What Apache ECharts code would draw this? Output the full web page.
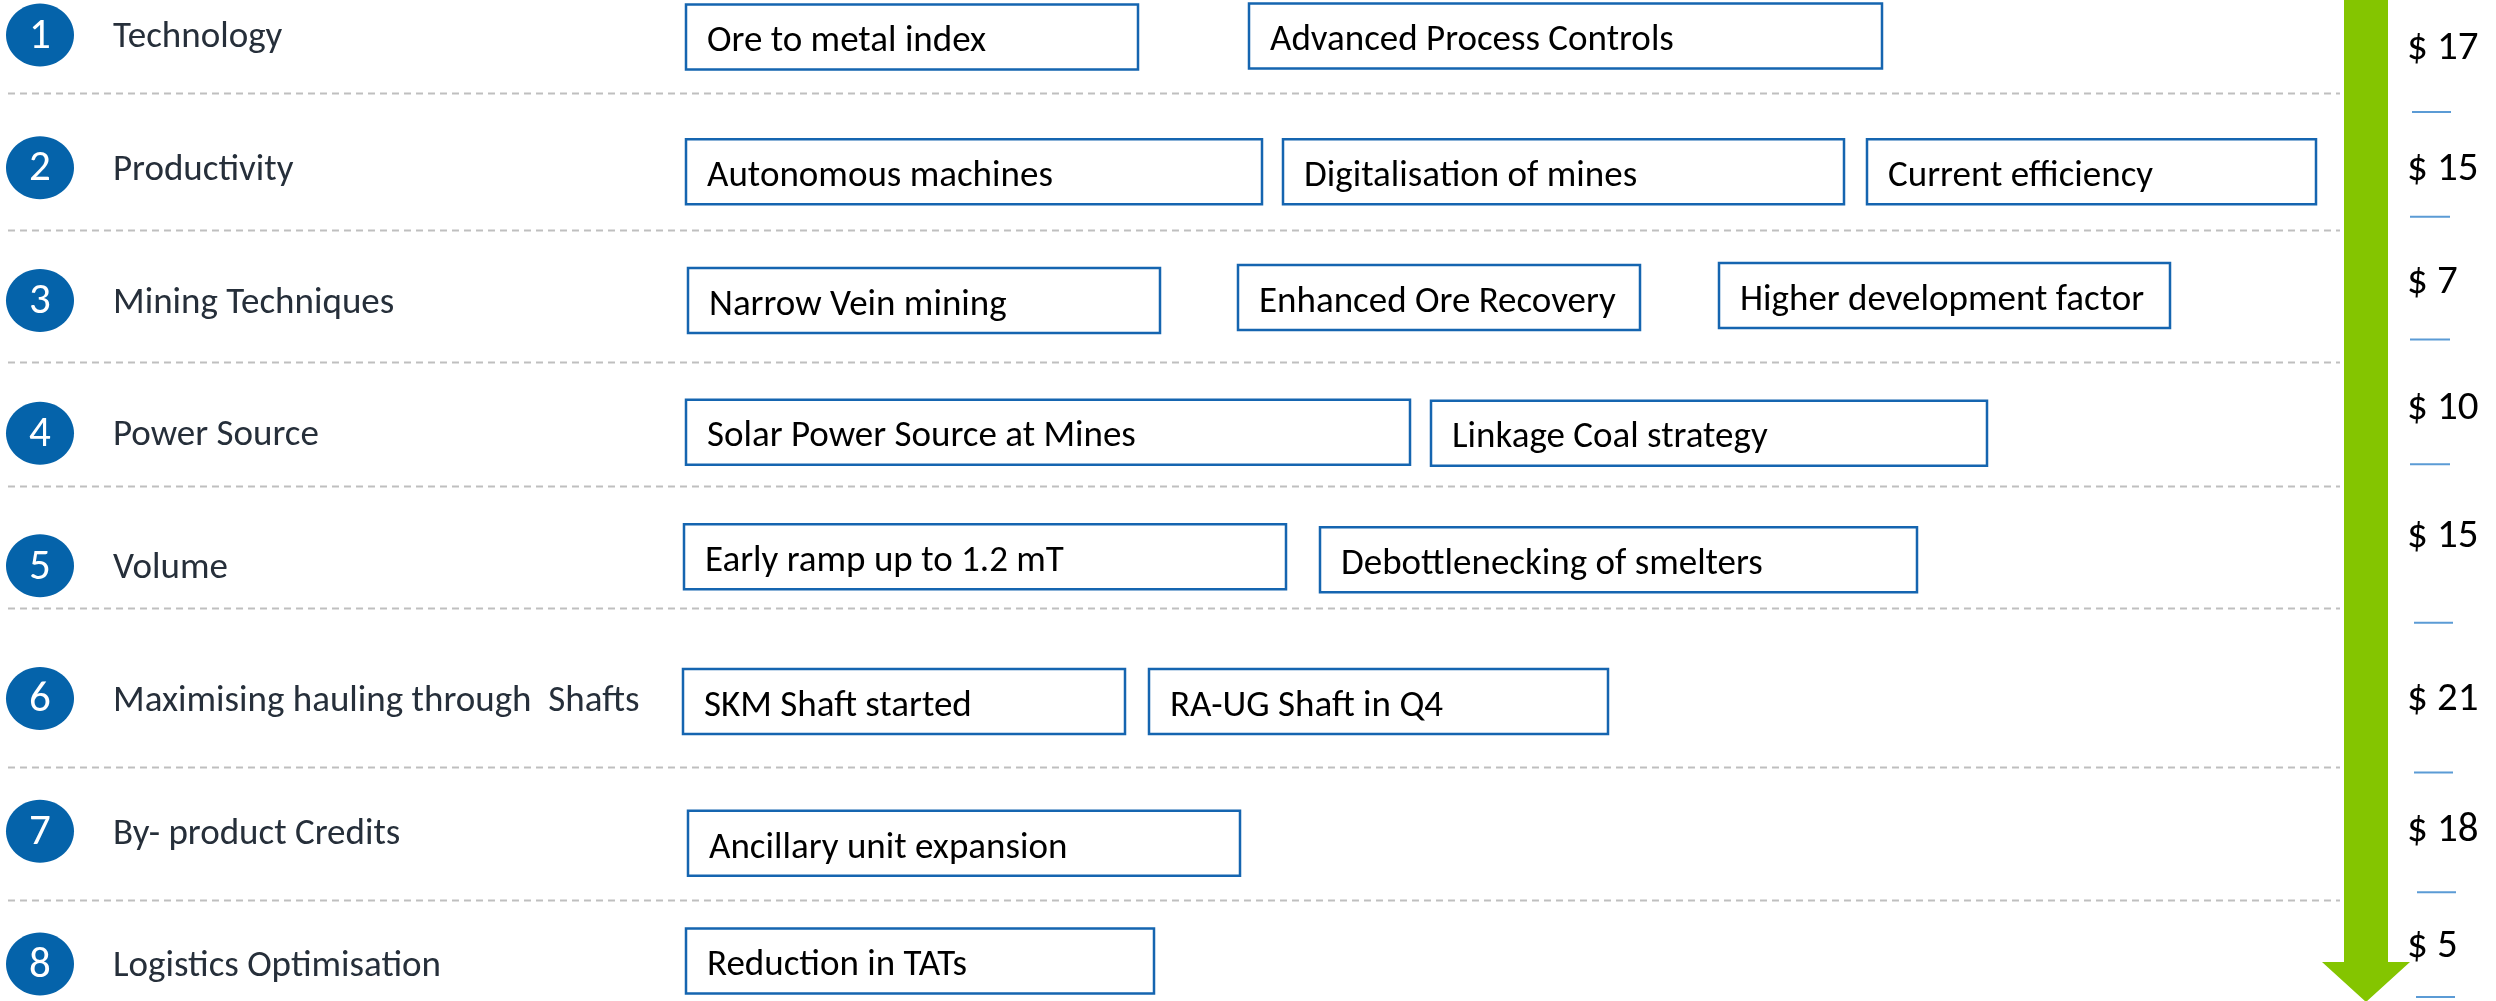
<!DOCTYPE html>
<html>
<head>
<meta charset="utf-8">
<script src="https://cdn.jsdelivr.net/npm/echarts@6/dist/echarts.min.js"></script>
<style>
html,body{margin:0;padding:0;background:#fff;}
#chart{width:2496px;height:1001px;}
</style>
</head>
<body>
<div id="chart"></div>
<script>
// ---- data ----
const categories = ['Technology', 'Productivity', 'Mining Techniques', 'Power Source', 'Volume',
  'Maximising hauling through  Shafts', 'By- product Credits', 'Logistics Optimisation'];
const savings = [17, 15, 7, 10, 15, 21, 18, 5];
const initiatives = [
  ['Ore to metal index', 'Advanced Process Controls'],
  ['Autonomous machines', 'Digitalisation of mines', 'Current efficiency'],
  ['Narrow Vein mining', 'Enhanced Ore Recovery', 'Higher development factor'],
  ['Solar Power Source at Mines', 'Linkage Coal strategy'],
  ['Early ramp up to 1.2 mT', 'Debottlenecking of smelters'],
  ['SKM Shaft started', 'RA-UG Shaft in Q4'],
  ['Ancillary unit expansion'],
  ['Reduction in TATs']
];

// ---- layout (x in axis units, dy in px) ----
const boxSpans = [
  [[686, 1138, 2], [1249, 1882, 1]],
  [[686, 1262, 4], [1283, 1844, 4], [1867, 2316, 4]],
  [[688, 1160, 0], [1238, 1640, -3], [1719, 2170, -5]],
  [[686, 1410, -1], [1431, 1987, 0]],
  [[684, 1286, -9], [1320, 1917, -6]],
  [[683, 1125, 3], [1149, 1608, 3]],
  [[688, 1240, 12]],
  [[686, 1154, -3]]
];
const separatorRows = [0.437, 1.469, 2.464, 3.398, 4.318, 5.516, 6.518];
const valueDy = [14, 2, -18, -24, -29, 1, -1, -17];
const tickDy = [77, 49, 39, 31, 57, 74, 61, 33];
const tickX = [[2412, 2451], [2410, 2450], [2410, 2450], [2410, 2450], [2414, 2453], [2414, 2453], [2417, 2456], [2416, 2455]];

const FONT = 'Carlito, Calibri, Lato, "Open Sans", sans-serif';
const BLUE = '#0563AA';

const rowData = categories.map((c, i) => [i, c, savings[i]]);
const boxData = [];
initiatives.forEach((list, r) => list.forEach((t, k) => boxData.push([r, k, t])));

const chart = echarts.init(document.getElementById('chart'), null, {renderer: 'canvas'});
chart.setOption({
  animation: false,
  grid: {left: 0, right: 0, top: 35, bottom: 37},
  xAxis: {type: 'value', min: 0, max: 2496, show: false},
  yAxis: {type: 'value', min: 0, max: 7, inverse: true, show: false},
  graphic: [{
    type: 'polygon', z: 5,
    shape: {points: [[2344, 0], [2388, 0], [2388, 962], [2410, 962], [2366, 1002], [2322, 962], [2344, 962]]},
    style: {fill: '#84C500'}
  }],
  series: [
    {
      type: 'custom', name: 'separators', z: 1,
      data: separatorRows.map(v => [v]),
      renderItem: function (params, api) {
        const a = api.coord([8, api.value(0)]);
        const b = api.coord([2340, api.value(0)]);
        return {type: 'line', shape: {x1: a[0], y1: Math.round(a[1]) + 0.5, x2: b[0], y2: Math.round(a[1]) + 0.5},
          style: {stroke: '#BFBFBF', lineWidth: 2, lineDash: [7, 5]}};
      }
    },
    {
      type: 'custom', name: 'rows', z: 3,
      data: rowData,
      renderItem: function (params, api) {
        const i = api.value(0);
        const c = api.coord([40, i]);
        const lab = api.coord([113, i]);
        const val = api.coord([2407, i]);
        const t0 = api.coord([tickX[i][0], i]);
        const t1 = api.coord([tickX[i][1], i]);
        return {type: 'group', children: [
          {type: 'ellipse', shape: {cx: c[0], cy: c[1], rx: 34, ry: 31.5}, style: {fill: BLUE}},
          {type: 'text', x: c[0], y: c[1] + 2, style: {text: String(i + 1), fill: '#fff', font: '43px ' + FONT, align: 'center', verticalAlign: 'middle'}},
          {type: 'text', x: lab[0], y: lab[1] + 3, style: {text: categories[i], fill: '#262F3A', font: '37px ' + FONT, align: 'left', verticalAlign: 'middle'}},
          {type: 'text', x: val[0], y: val[1] + valueDy[i], style: {text: '$ ' + savings[i], fill: '#000', font: '41px ' + FONT, align: 'left', verticalAlign: 'middle'}},
          {type: 'line', shape: {x1: t0[0], y1: t0[1] + tickDy[i], x2: t1[0], y2: t1[1] + tickDy[i]}, style: {stroke: '#5B9BD5', lineWidth: 2}}
        ]};
      }
    },
    {
      type: 'custom', name: 'initiatives', z: 4,
      data: boxData,
      renderItem: function (params, api) {
        const r = api.value(0), k = api.value(1);
        const span = boxSpans[r][k];
        const p0 = api.coord([span[0], r]);
        const p1 = api.coord([span[1], r]);
        const h = 65;
        const y0 = p0[1] + span[2] - h / 2;
        return {type: 'group', children: [
          {type: 'rect', shape: {x: p0[0], y: y0, width: p1[0] - p0[0], height: h},
            style: {fill: '#fff', stroke: '#1565B0', lineWidth: 2.5}},
          {type: 'text', x: p0[0] + 21, y: y0 + h / 2 + 5,
            style: {text: initiatives[r][k], fill: '#000', font: '37px ' + FONT, align: 'left', verticalAlign: 'middle'}}
        ]};
      }
    }
  ]
});
</script>
</body>
</html>
